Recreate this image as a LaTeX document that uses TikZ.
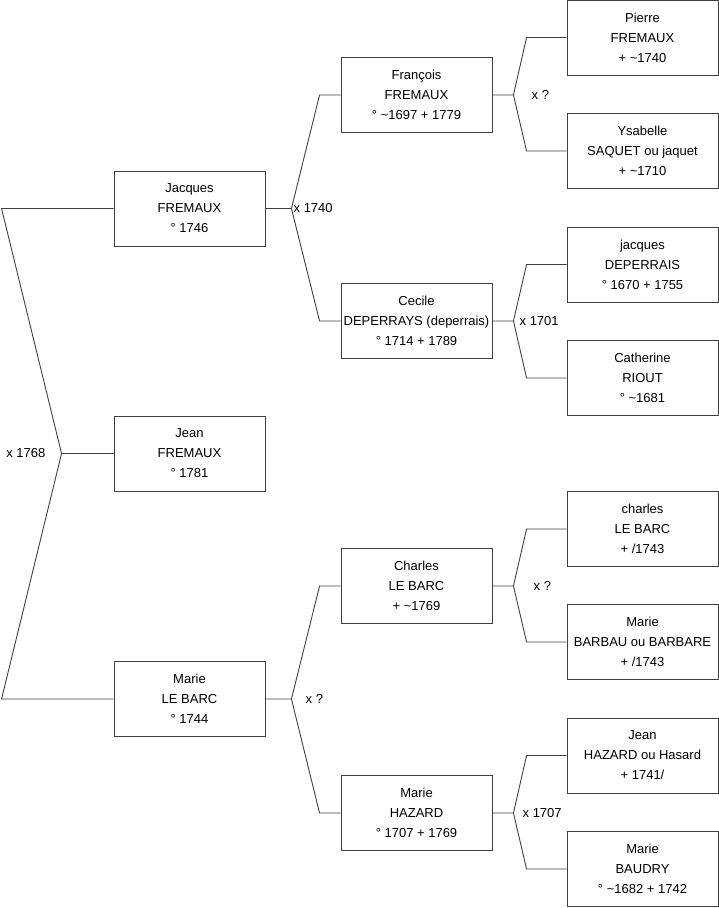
\documentclass[tikz,border=0pt]{standalone}
\usepackage{fontspec}
\setmainfont{Liberation Sans}
\usetikzlibrary{positioning}

\begin{document}
\begin{tikzpicture}[x=1pt, y=-1pt, font=\fontsize{13}{20}\selectfont,
  person/.style={draw=black!75, line width=0.9pt, minimum width=151pt, minimum height=75pt, align=center, inner sep=1pt, fill=white},
  link/.style={draw=black!75, line width=0.9pt},
  wed/.style={inner sep=1pt, anchor=west}]
\useasboundingbox (0,0) rectangle (719,908);
% children
\node[person] (jacques) at (189.5,208.5) {Jacques\\FREMAUX\\° 1746};
\node[person] (jean) at (189.5,453.5) {Jean\\FREMAUX\\° 1781};
\node[person] (marielb) at (189.5,699) {Marie\\LE BARC\\° 1744};
% parents
\node[person] (francois) at (416.5,95) {François\\FREMAUX\\° \textasciitilde1697 + 1779};
\node[person] (cecile) at (416.5,321) {Cecile\\DEPERRAYS (deperrais)\\° 1714 + 1789};
\node[person] (charles) at (416.5,586) {Charles\\LE BARC\\+ \textasciitilde1769};
\node[person] (mariehz) at (416.5,813) {Marie\\HAZARD\\° 1707 + 1769};
% grandparents
\node[person] (pierre) at (642.5,37.5) {Pierre\\FREMAUX\\+ \textasciitilde1740};
\node[person] (ysabelle) at (642.5,151) {Ysabelle\\SAQUET ou jaquet\\+ \textasciitilde1710};
\node[person] (jacquesd) at (642.5,264.5) {jacques\\DEPERRAIS\\° 1670 + 1755};
\node[person] (catherine) at (642.5,378) {Catherine\\RIOUT\\° \textasciitilde1681};
\node[person] (charlesb) at (642.5,529) {charles\\LE BARC\\+ /1743};
\node[person] (mariebb) at (642.5,642) {Marie\\BARBAU ou BARBARE\\+ /1743};
\node[person] (jeanh) at (642.5,755.5) {Jean\\HAZARD ou Hasard\\+ 1741/};
\node[person] (mariebd) at (642.5,869) {Marie\\BAUDRY\\° \textasciitilde1682 + 1742};
% marriages
\coordinate[left=52pt of jean.west] (root);
\draw[link] (jean.west) -- (root);
\draw[link] (jacques.west) -- ++(-112,0) -- (root) -- ([xshift=-112pt]marielb.west) -- (marielb.west);
\node[wed, anchor=east] at ([xshift=-15pt]root) {x 1768};
\foreach \p/\a/\b/\t/\s in {jacques/francois/cecile/x 1740/1, marielb/charles/mariehz/x ?/13} {
  \draw[link] (\p.east) -- ++(26,0) coordinate (f-\p) -- ([xshift=-21pt]\a.west) -- (\a.west);
  \draw[link] (f-\p) -- ([xshift=-21pt]\b.west) -- (\b.west);
  \node[wed] at ([xshift=\s pt]f-\p) {\t};
}
\foreach \p/\a/\b/\t/\s in {francois/pierre/ysabelle/x ?/17, cecile/jacquesd/catherine/x 1701/5,
    charles/charlesb/mariebb/x ?/19, mariehz/jeanh/mariebd/x 1707/8} {
  \draw[link] (\p.east) -- ++(21,0) coordinate (f-\p) -- ([xshift=-40pt]\a.west) -- (\a.west);
  \draw[link] (f-\p) -- ([xshift=-40pt]\b.west) -- (\b.west);
  \node[wed] at ([xshift=\s pt]f-\p) {\t};
}
\end{tikzpicture}
\end{document}
